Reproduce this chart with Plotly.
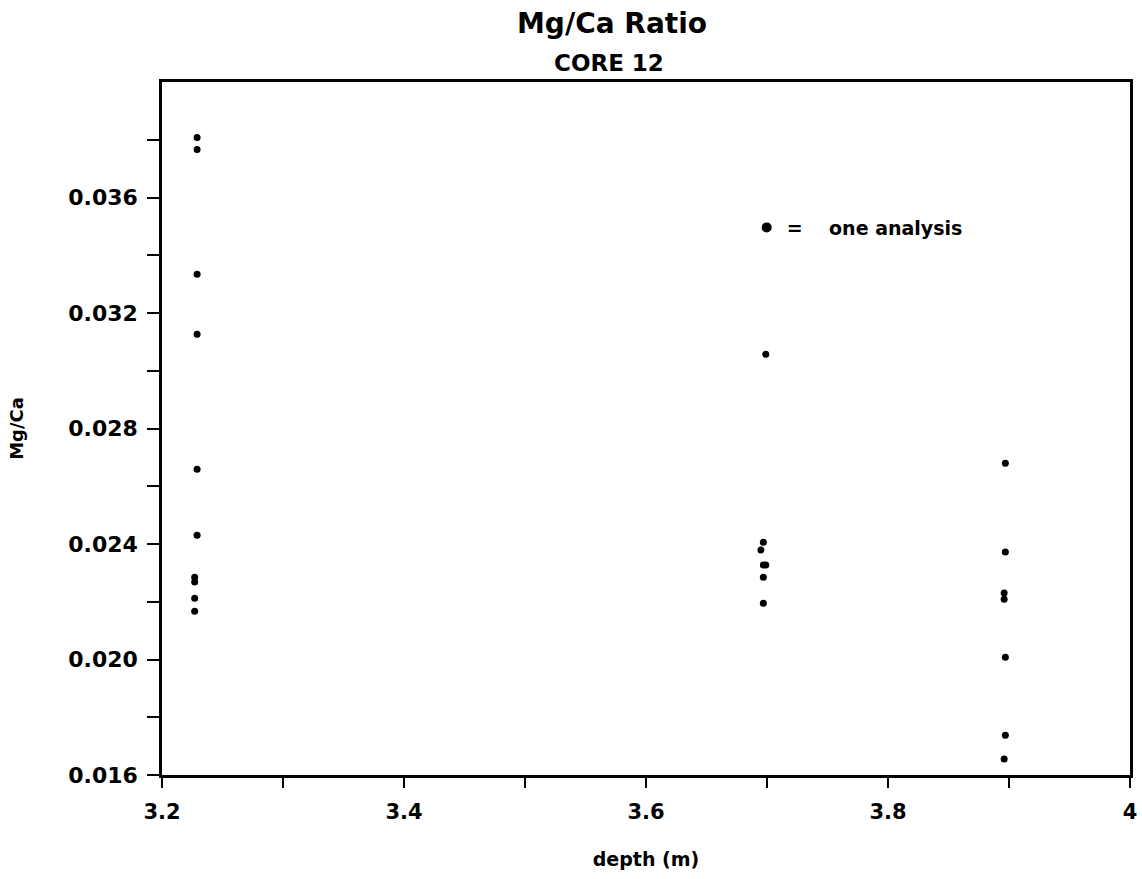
import plotly.graph_objects as go

# ---- data ----
depth_a = [3.229, 3.229, 3.229, 3.229, 3.229, 3.229, 3.227, 3.227, 3.227, 3.227]
mgca_a = [0.03808, 0.03766, 0.03334, 0.03126, 0.02659, 0.02430, 0.02285, 0.02268, 0.02212, 0.02167]

depth_b = [3.699, 3.697, 3.695, 3.697, 3.699, 3.697, 3.697]
mgca_b = [0.03057, 0.02406, 0.02379, 0.02327, 0.02327, 0.02285, 0.02195]

depth_c = [3.897, 3.897, 3.896, 3.896, 3.897, 3.897, 3.896]
mgca_c = [0.02680, 0.02372, 0.02230, 0.02209, 0.02008, 0.01738, 0.01655]

x_tickvals = [3.2, 3.3, 3.4, 3.5, 3.6, 3.7, 3.8, 3.9, 4.0]
x_ticktext = ["3.2", "", "3.4", "", "3.6", "", "3.8", "", "4"]
y_tickvals = [0.016, 0.018, 0.020, 0.022, 0.024, 0.026, 0.028, 0.030, 0.032, 0.034, 0.036, 0.038]
y_ticktext = ["0.016", "", "0.020", "", "0.024", "", "0.028", "", "0.032", "", "0.036", ""]

depth = depth_a + depth_b + depth_c
mgca = mgca_a + mgca_b + mgca_c

FONT = "DejaVu Sans"

fig = go.Figure()
fig.add_trace(go.Scatter(
    x=depth, y=mgca, mode="markers",
    marker=dict(size=7, color="black"),
    showlegend=False,
))
# legend key: one dot = one analysis
fig.add_trace(go.Scatter(
    x=[None], y=[None], mode="markers",
    marker=dict(size=10, color="black"),
    name="=\u00a0\u00a0\u00a0\u00a0one analysis",
    showlegend=True,
))

fig.update_layout(
    width=1142, height=879,
    margin=dict(l=162, r=5, t=82, b=104),
    paper_bgcolor="white", plot_bgcolor="white",
    font=dict(family=FONT, color="black", weight="bold"),
    title=dict(text="Mg/Ca Ratio", x=612 / 1142, xanchor="center",
               y=1 - 23 / 879, yanchor="middle", xref="container", yref="container",
               font=dict(size=28, family=FONT, weight="bold", color="black")),
    legend=dict(x=0.604, y=0.79, xanchor="left", yanchor="middle",
                bgcolor="rgba(0,0,0,0)", borderwidth=0,
                font=dict(size=19, family=FONT, weight="bold", color="black"),
                itemsizing="trace"),
    xaxis=dict(
        range=[3.2, 4.0], tickmode="array", tickvals=x_tickvals, ticktext=x_ticktext,
        ticks="outside", ticklen=10, tickwidth=2, tickcolor="black",
        showline=True, linewidth=2.5, linecolor="black", mirror=True,
        showgrid=False, zeroline=False,
        tickfont=dict(size=21, family=FONT, weight="bold"),
        ticklabelstandoff=6,
        title=dict(text="depth (m)", standoff=30,
                   font=dict(size=19, family=FONT, weight="bold")),
    ),
    yaxis=dict(
        range=[0.016, 0.040], tickmode="array", tickvals=y_tickvals, ticktext=y_ticktext,
        ticks="outside", ticklen=12, tickwidth=2, tickcolor="black",
        showline=True, linewidth=2.5, linecolor="black", mirror=True,
        showgrid=False, zeroline=False,
        tickfont=dict(size=22, family=FONT, weight="bold"),
        ticklabelstandoff=5,
        title=dict(text="Mg/Ca", standoff=40,
                   font=dict(size=18, family=FONT, weight="bold")),
    ),
    annotations=[dict(
        text="CORE 12", x=(612 - 162) / 975, y=(775 - 63) / 693,
        xref="paper", yref="paper", xanchor="center", yanchor="middle",
        showarrow=False, font=dict(size=23, family=FONT, weight="bold", color="black"),
    )],
)

fig.write_html(
    "out.html",
    config={"displayModeBar": False},
    post_script="document.body.style.margin='0';document.body.style.overflow='hidden';",
)
